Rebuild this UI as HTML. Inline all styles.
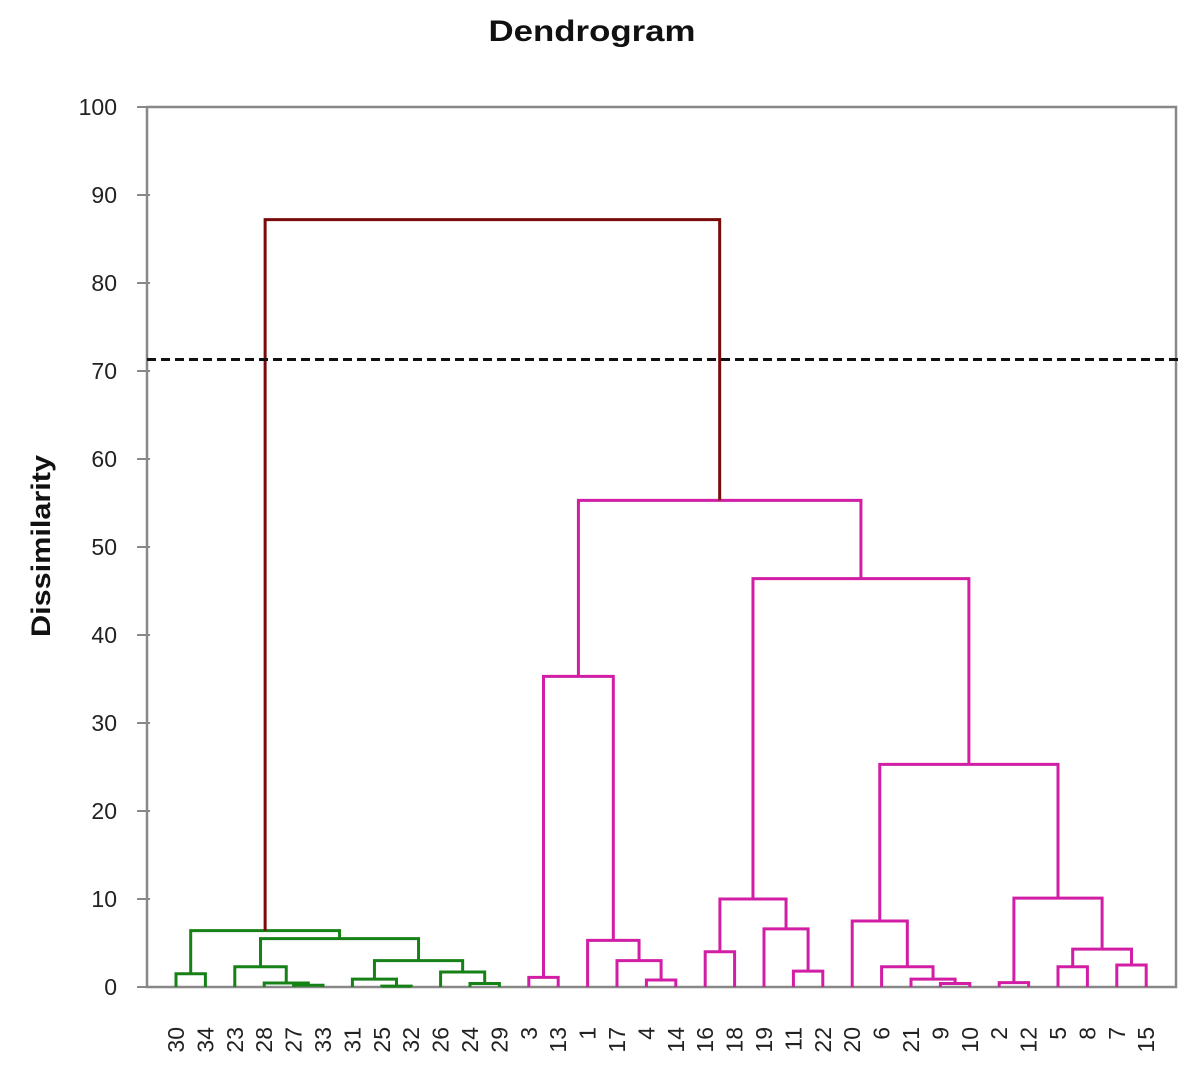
<!DOCTYPE html>
<html><head><meta charset="utf-8"><style>
html,body{margin:0;padding:0;background:#fff;}
svg{display:block;font-family:"Liberation Sans","DejaVu Sans",sans-serif;}
</style></head><body>
<svg id="chart" width="1203" height="1084" viewBox="0 0 1203 1084" xmlns="http://www.w3.org/2000/svg">
<text x="592" y="41" text-anchor="middle" font-size="30" font-weight="bold" fill="#111" textLength="207" lengthAdjust="spacingAndGlyphs">Dendrogram</text>
<text transform="translate(50,546) rotate(-90)" text-anchor="middle" font-size="27" font-weight="bold" fill="#111" textLength="182" lengthAdjust="spacingAndGlyphs">Dissimilarity</text>
<rect x="147" y="107" width="1029" height="880" fill="none" stroke="#888" stroke-width="2.5"/>
<g id="yticks"></g>
<g id="links"></g>
<g id="xlabels"></g>
</svg>
<script>
const leaves = ["30","34","23","28","27","33","31","25","32","26","24","29","3","13","1","17","4","14","16","18","19","11","22","20","6","21","9","10","2","12","5","8","7","15"];
// merges: [childA, childB, height, color]; children are leaf labels or "m<index>"
const mergeA = ["30","27","28","23","25","31","24","26","m5","m3","m0","3","4","17","1","m11","16","11","19","m16","9","21","6","20","2","5","7","m25","m24","m23","m19","m15","m10"];
const mergeB = ["34","33","m1","m2","32","m4","29","m6","m7","m8","m9","13","14","m12","m13","m14","18","22","m17","m18","10","m20","m21","m22","12","8","15","m26","m27","m28","m29","m30","m31"];
const mergeH = [1.5,0.2,0.45,2.3,0.1,0.9,0.4,1.7,3.0,5.5,6.4,1.1,0.8,3.0,5.3,35.3,4.0,1.8,6.6,10.0,0.4,0.9,2.3,7.5,0.5,2.3,2.5,4.3,10.1,25.3,46.4,55.3,87.2];
const mergeC = ["g","g","g","g","g","g","g","g","g","g","g","p","p","p","p","p","p","p","p","p","p","p","p","p","p","p","p","p","p","p","p","p","r"];
const yTicks = [0,10,20,30,40,50,60,70,80,90,100];
const cutLevel = 71.3;

const colors = {g:"#168116", p:"#d11ea5", r:"#7a0b0b"};
const NS = "http://www.w3.org/2000/svg";
const y = v => 987 - v * 8.8;
const xLeaf = i => 176 + i * 29.4;

const yg = document.getElementById('yticks');
yTicks.forEach(t => {
  const l = document.createElementNS(NS, 'line');
  
  
  l.setAttribute('x1', 137); l.setAttribute('x2', 150);
  l.setAttribute('y1', y(t)); l.setAttribute('y2', y(t));
  l.setAttribute('stroke', '#888'); l.setAttribute('stroke-width', '2');
  yg.appendChild(l);
  const tx = document.createElementNS(NS, 'text');
  
  
  tx.setAttribute('x', 117); tx.setAttribute('y', y(t) + 8);
  tx.setAttribute('text-anchor', 'end'); tx.setAttribute('font-size', '23'); tx.setAttribute('fill', '#222');
  tx.textContent = t;
  yg.appendChild(tx);
});

const xg = document.getElementById('xlabels');
leaves.forEach((lab, i) => {
  const tx = document.createElementNS(NS, 'text');
  
  
  tx.setAttribute('transform', `translate(${xLeaf(i) + 8},1027) rotate(-90)`);
  tx.setAttribute('text-anchor', 'end'); tx.setAttribute('font-size', '23'); tx.setAttribute('fill', '#222');
  tx.textContent = lab;
  xg.appendChild(tx);
});

const pos = {};
leaves.forEach((l, i) => pos[l] = {x: xLeaf(i), h: 0});
const lg = document.getElementById('links');
mergeA.forEach((a, k) => {
  const A = pos[a], B = pos[mergeB[k]], h = mergeH[k];
  const p = document.createElementNS(NS, 'path');
  
  
  p.setAttribute('d', `M${A.x},${y(A.h)}V${y(h)}H${B.x}V${y(B.h)}`);
  p.setAttribute('fill', 'none'); p.setAttribute('stroke', colors[mergeC[k]]); p.setAttribute('stroke-width', '3');
  lg.appendChild(p);
  pos['m' + k] = {x: (A.x + B.x) / 2, h: h};
});

const cut = document.createElementNS(NS, 'line');


cut.setAttribute('x1', 147); cut.setAttribute('x2', 1178);
cut.setAttribute('y1', y(cutLevel)); cut.setAttribute('y2', y(cutLevel));
cut.setAttribute('stroke', '#111'); cut.setAttribute('stroke-width', '3'); cut.setAttribute('stroke-dasharray', '9,5');
lg.appendChild(cut);
</script>
</body></html>
